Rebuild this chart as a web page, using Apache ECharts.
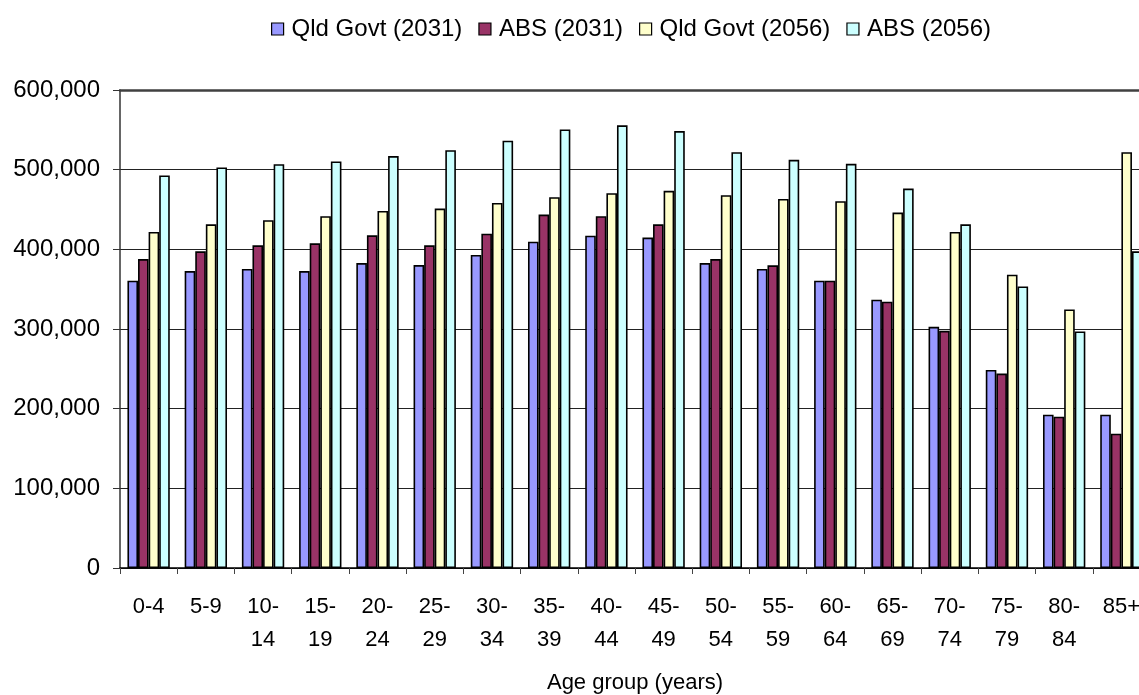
<!DOCTYPE html>
<html>
<head>
<meta charset="utf-8">
<script src="https://cdn.jsdelivr.net/npm/echarts@6/dist/echarts.min.js"></script>
<style>
  html, body { margin: 0; padding: 0; background: #fff; }
  #chart { width: 1139px; height: 695px; }
</style>
</head>
<body>
<div id="chart"></div>
<script>
// Age groups (two-line tick labels)
var ageGroups = ['0-4', '5-9', '10-\n14', '15-\n19', '20-\n24', '25-\n29', '30-\n34', '35-\n39',
  '40-\n44', '45-\n49', '50-\n54', '55-\n59', '60-\n64', '65-\n69', '70-\n74', '75-\n79', '80-\n84', '85+'];

// Projected population by age group
var qldGovt2031 = [360600, 372700, 375300, 372700, 382800, 380300, 392900, 409600, 417200,
  414700, 382800, 375300, 360600, 336700, 302700, 248600, 192500, 192500];
var abs2031 = [387800, 397500, 405000, 407500, 417600, 405000, 419700, 443600, 441500,
  431400, 387800, 379900, 360600, 334200, 297700, 244000, 189900, 168600];
var qldGovt2056 = [421800, 431400, 436500, 441500, 448200, 451200, 458300, 465400, 470400,
  473400, 467900, 463300, 460400, 446100, 421800, 368100, 324500, 522000];
var abs2056 = [492700, 502700, 506900, 510300, 517000, 524500, 536300, 550500, 555600,
  548400, 522000, 512400, 507300, 476300, 431400, 353500, 296900, 397500];

var seriesNames = ['Qld Govt (2031)', 'ABS (2031)', 'Qld Govt (2056)', 'ABS (2056)'];
var seriesColors = ['#9999FF', '#993366', '#FFFFCC', '#CCFFFF'];
var seriesData = [qldGovt2031, abs2031, qldGovt2056, abs2056];

var FONT = "'Liberation Sans', Arial, sans-serif";

var chart = echarts.init(document.getElementById('chart'), null, { renderer: 'canvas' });

var series = seriesNames.map(function (name, i) {
  return {
    name: name,
    type: 'bar',
    data: seriesData[i],
    barGap: '0%',
    barCategoryGap: '26%',
    itemStyle: { color: seriesColors[i], borderColor: '#000', borderWidth: 1.6 },
    emphasis: { disabled: true },
    animation: false
  };
});

chart.setOption({
  animation: false,
  textStyle: { fontFamily: FONT, color: '#000' },
  legend: {
    top: 17,
    left: 271,
    padding: 0,
    itemWidth: 12,
    itemHeight: 12,
    itemGap: 16,
    icon: 'rect',
    itemStyle: { borderColor: '#000', borderWidth: 1.2 },
    textStyle: { fontFamily: FONT, fontSize: 24, color: '#000', padding: [0, 0, 0, 3] },
    data: seriesNames
  },
  grid: { left: 120, top: 90, right: -11, bottom: 127, outerBoundsMode: 'none', containLabel: false },
  xAxis: [{
    type: 'category',
    data: ageGroups,
    axisLine: { lineStyle: { color: '#000', width: 1.5 } },
    axisTick: { show: true, length: 6, lineStyle: { color: '#444' } },
    axisLabel: { fontFamily: FONT, fontSize: 22, color: '#000', lineHeight: 33, margin: 22, interval: 0 },
    name: 'Age group (years)',
    nameLocation: 'middle',
    nameGap: 104,
    nameTextStyle: { fontFamily: FONT, fontSize: 22, color: '#000' }
  }, {
    type: 'category',
    data: ageGroups,
    position: 'top',
    axisLine: { lineStyle: { color: '#404040', width: 2.5 } },
    axisTick: { show: false },
    axisLabel: { show: false }
  }],
  yAxis: {
    type: 'value',
    min: 0,
    max: 600000,
    interval: 100000,
    axisLine: { show: true, lineStyle: { color: '#333', width: 1.5 } },
    axisTick: { show: true, length: 7, lineStyle: { color: '#333' } },
    splitLine: { show: true, lineStyle: { color: '#222', width: 1 } },
    axisLabel: {
      fontFamily: FONT, fontSize: 24, color: '#000', margin: 20,
      formatter: function (v) { return v.toLocaleString('en-US'); }
    }
  },
  series: series
});
</script>
</body>
</html>
